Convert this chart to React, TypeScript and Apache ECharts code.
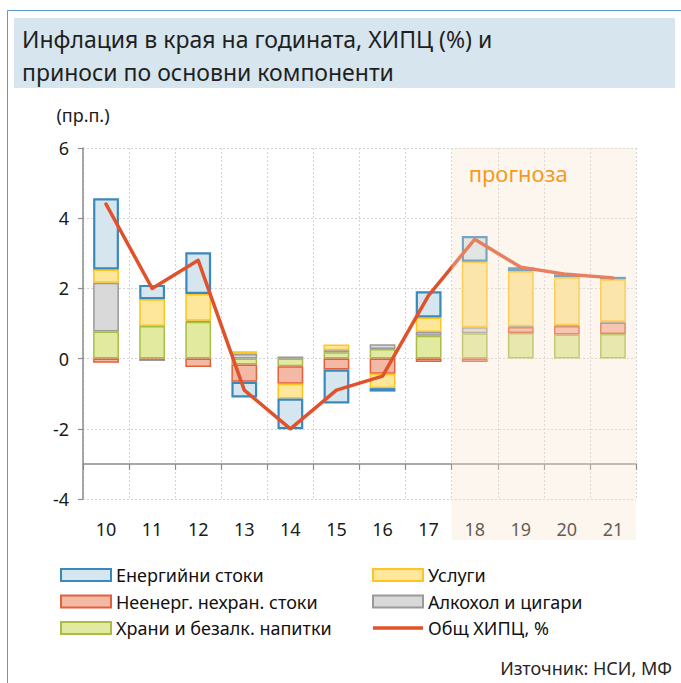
import React, { useEffect, useRef } from 'react';
import * as echarts from 'echarts';

const categories = ['10', '11', '12', '13', '14', '15', '16', '17', '18', '19', '20', '21'];
const food = [0.77, 0.93, 1.05, -0.17, -0.22, 0.18, 0.27, 0.65, 0.72, 0.73, 0.69, 0.7];
const nonEnergy = [-0.12, -0.05, -0.24, -0.49, -0.5, -0.31, -0.43, -0.1, -0.1, 0.17, 0.24, 0.33];
const alcohol = [1.39, 0, 0.03, 0.13, 0.06, 0.06, 0.14, 0.11, 0.17, 0.02, 0.02, 0.02];
const services = [0.38, 0.76, 0.76, 0.08, -0.42, 0.16, -0.41, 0.41, 1.87, 1.57, 1.37, 1.21];
const energy = [2.03, 0.41, 1.19, -0.45, -0.87, -0.97, -0.1, 0.75, 0.73, 0.11, 0.08, 0.07];
const hicp = [4.4, 2.0, 2.8, -0.9, -2.0, -0.9, -0.5, 1.8, 3.4, 2.6, 2.4, 2.3];
const forecastFrom = '18';
const forecastTo = '21';
const yMin = -4;
const yMax = 6;
const yStep = 2;
const axisCrossAt = -3;

const FONT = '"Noto Sans", "Open Sans", sans-serif';
const LINE_ICON = 'path://M0,0L0.01,0L0,0.01Z M0,4.3H50V7.7H0Z M50,12L49.99,12L50,11.99Z';

export default function App() {
  const ref = useRef<HTMLDivElement>(null);
  useEffect(() => {
    document.body.style.margin = '0';
    if (!ref.current) return;
    const chart = echarts.init(ref.current, undefined, { renderer: 'svg' });

    const barBase = {
      type: 'bar',
      stack: 'total',
      barWidth: '56%',
      xAxisIndex: 0,
      yAxisIndex: 0,
    };

    const staticGraphics: any[] = [
      {
        type: 'rect',
        id: 'titlebg',
        z: -10,
        shape: { x: 14, y: 18, width: 661, height: 70 },
        style: { fill: '#d6e5ee' },
      },
      {
        type: 'rect',
        id: 'frame',
        z: -10,
        shape: { x: 7.5, y: 10.5, width: 700, height: 700 },
        style: { fill: 'none', stroke: '#5b9bd0', lineWidth: 1 },
      },
      {
        type: 'text',
        id: 'source',
        x: 672,
        y: 668,
        style: {
          text: 'Източник: НСИ, МФ',
          fontSize: 18,
          fontFamily: FONT,
          fill: '#262626',
          align: 'right',
          textAlign: 'right',
          verticalAlign: 'middle',
          textVerticalAlign: 'middle',
        },
      },
    ];

    const legendText = { fontSize: 18, color: '#111', lineHeight: 18, fontFamily: FONT };

    const option: any = {
      animation: false,
      backgroundColor: '#ffffff',
      textStyle: { fontFamily: FONT },
      title: {
        text: 'Инфлация в края на годината, ХИПЦ (%) и\nприноси по основни компоненти',
        left: 22,
        top: 22,
        padding: 0,
        textStyle: {
          fontSize: 23,
          fontWeight: 'normal',
          color: '#1f1f1f',
          lineHeight: 33,
          fontFamily: FONT,
        },
      },
      grid: {
        left: 83,
        top: 148,
        width: 553,
        height: 351,
        containLabel: false,
        outerBoundsMode: 'none',
      },
      legend: [
        {
          left: 60,
          top: 566,
          padding: 0,
          orient: 'vertical',
          itemWidth: 50,
          itemHeight: 12,
          itemGap: 8.5,
          icon: 'rect',
          textStyle: legendText,
          data: ['Енергийни стоки', 'Неенерг. нехран. стоки', 'Храни и безалк. напитки'],
        },
        {
          left: 372,
          top: 566,
          padding: 0,
          orient: 'vertical',
          itemWidth: 50,
          itemHeight: 12,
          itemGap: 8.5,
          textStyle: legendText,
          data: [
            { name: 'Услуги', icon: 'rect' },
            { name: 'Алкохол и цигари', icon: 'rect' },
            { name: 'Общ ХИПЦ, %', icon: LINE_ICON, itemStyle: { color: '#e0522b', borderWidth: 0 } },
          ],
        },
      ],
      xAxis: [
        {
          type: 'category',
          data: categories,
          position: 'bottom',
          boundaryGap: true,
          axisLine: { show: false, onZero: false },
          axisTick: { show: false },
          axisLabel: { margin: 21, fontSize: 18, color: '#1a1a1a', fontFamily: FONT },
          splitLine: { show: true, lineStyle: { type: [2, 2], color: '#d4d4d4', width: 1 } },
        },
        {
          type: 'category',
          data: categories,
          position: 'top',
          boundaryGap: true,
          axisLine: {
            show: true,
            onZero: true,
            onZeroAxisIndex: 1,
            lineStyle: { color: '#8c8c8c', width: 1.5 },
          },
          axisTick: { show: true, inside: true, length: 6, lineStyle: { color: '#8c8c8c', width: 1.2 } },
          axisLabel: { show: false },
          splitLine: { show: false },
        },
      ],
      yAxis: [
        {
          type: 'value',
          min: yMin,
          max: yMax,
          interval: yStep,
          name: '(пр.п.)',
          nameLocation: 'end',
          nameGap: 24,
          nameTextStyle: { fontSize: 18, color: '#1a1a1a', fontFamily: FONT },
          axisLine: { show: true, lineStyle: { color: '#8c8c8c', width: 1.5 } },
          axisTick: { show: true, length: 5, lineStyle: { color: '#8c8c8c', width: 1.2 } },
          axisLabel: { fontSize: 18, color: '#1a1a1a', margin: 14, fontFamily: FONT },
          splitLine: { show: true, lineStyle: { type: [2, 2], color: '#d4d4d4', width: 1 } },
        },
        {
          type: 'value',
          min: yMin - axisCrossAt,
          max: yMax - axisCrossAt,
          show: false,
        },
      ],
      series: [
        {
          ...barBase,
          name: 'Храни и безалк. напитки',
          data: food,
          itemStyle: { color: '#e1ea9f', borderColor: '#a8bd48', borderWidth: 1.5 },
        },
        {
          ...barBase,
          name: 'Неенерг. нехран. стоки',
          data: nonEnergy,
          itemStyle: { color: '#f3b9a5', borderColor: '#e2603a', borderWidth: 1.5 },
        },
        {
          ...barBase,
          name: 'Алкохол и цигари',
          data: alcohol,
          itemStyle: { color: '#d9d9d9', borderColor: '#9a9a9a', borderWidth: 1.5 },
        },
        {
          ...barBase,
          name: 'Услуги',
          data: services,
          itemStyle: { color: '#fee69a', borderColor: '#fcc521', borderWidth: 1.5 },
        },
        {
          ...barBase,
          name: 'Енергийни стоки',
          data: energy,
          itemStyle: { color: '#d6e6ef', borderColor: '#3b88bd', borderWidth: 2.2 },
        },
        {
          type: 'line',
          name: 'Общ ХИПЦ, %',
          data: hicp,
          xAxisIndex: 0,
          yAxisIndex: 0,
          symbol: 'none',
          z: 5,
          itemStyle: { color: '#e0522b' },
          lineStyle: { color: '#e0522b', width: 3.5, cap: 'round', join: 'round' },
        },
      ],
      graphic: staticGraphics,
    };

    chart.setOption(option);

    const c0 = chart.convertToPixel({ xAxisIndex: 0 }, forecastFrom) as number;
    const c1 = chart.convertToPixel({ xAxisIndex: 0 }, categories[categories.indexOf(forecastFrom) + 1]) as number;
    const c2 = chart.convertToPixel({ xAxisIndex: 0 }, forecastTo) as number;
    const half = (c1 - c0) / 2;
    const yTop = chart.convertToPixel({ yAxisIndex: 0 }, yMax) as number;
    const yBottom = (chart.convertToPixel({ yAxisIndex: 0 }, yMin) as number) + 41;
    const x0 = c0 - half;
    const x1 = c2 + half;

    chart.setOption({
      graphic: [
        ...staticGraphics,
        {
          type: 'rect',
          id: 'forecast',
          z: 50,
          silent: true,
          shape: { x: x0, y: yTop, width: x1 - x0, height: yBottom - yTop },
          style: { fill: 'rgba(249,227,205,0.32)' },
        },
        {
          type: 'text',
          id: 'forecastLabel',
          z: 51,
          x: x0 + 17,
          y: yTop + 25,
          style: {
            text: 'прогноза',
            fontSize: 22,
            fontFamily: FONT,
            fill: '#f49a1f',
            align: 'left',
            textAlign: 'left',
            verticalAlign: 'middle',
            textVerticalAlign: 'middle',
          },
        },
      ],
    });

    return () => chart.dispose();
  }, []);

  return <div ref={ref} style={{ width: 681, height: 683 }} />;
}
